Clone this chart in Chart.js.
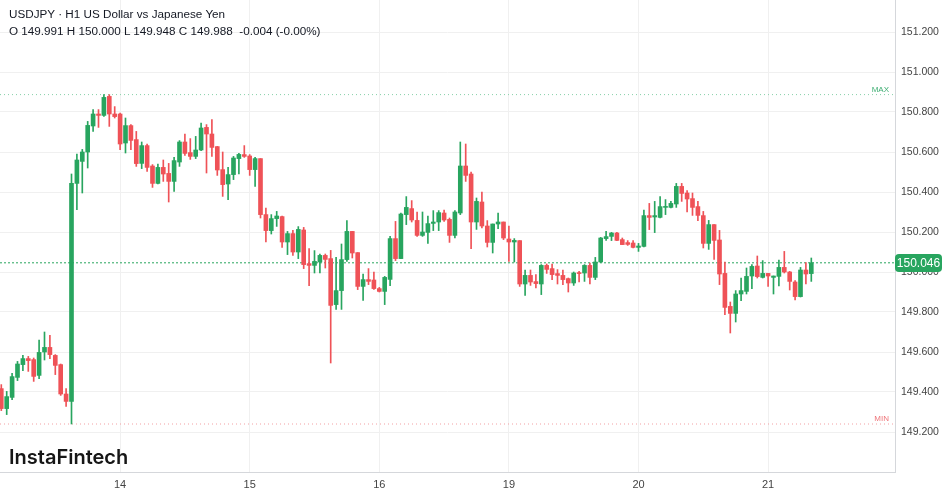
<!DOCTYPE html>
<html>
<head>
<meta charset="utf-8">
<script src="https://cdn.jsdelivr.net/npm/chart.js@4.4.1/dist/chart.umd.min.js"></script>
<style>
  html, body { margin: 0; padding: 0; background: #fff; }
  #wrap { position: relative; width: 949px; height: 494px; }
  #title {
    position: absolute; left: 9px; top: 5px;
    font: 11.7px "Liberation Sans", Arial, sans-serif; line-height: 17px;
    color: #131722; white-space: pre; pointer-events: none;
  }
  #logo {
    position: absolute; left: 9px; top: 445px;
    font: 600 20px Inter, sans-serif; color: #161616; pointer-events: none;
  }
</style>
</head>
<body>
<div id="wrap">
  <canvas id="myChart"></canvas>
  <div id="title">USDJPY · H1 US Dollar vs Japanese Yen
O 149.991 H 150.000 L 149.948 C 149.988  -0.004 (-0.00%)</div>
  <div id="logo">InstaFintech</div>
</div>
<script>
// hourly candles, Feb 13 -> Feb 21 (weekend collapsed)
const opens = [
  149.417, 149.317, 149.373, 149.473, 149.537, 149.567, 149.562, 149.483, 149.600, 149.623,
  149.583, 149.537, 149.390, 149.353, 150.443, 150.553, 150.600, 150.730, 150.790, 150.783,
  150.878, 150.790, 150.790, 150.645, 150.732, 150.662, 150.543, 150.632, 150.530, 150.443,
  150.523, 150.493, 150.453, 150.550, 150.650, 150.597, 150.578, 150.610, 150.723, 150.690,
  150.627, 150.512, 150.440, 150.487, 150.567, 150.587, 150.580, 150.512, 150.567, 150.287,
  150.207, 150.267, 150.277, 150.150, 150.192, 150.100, 150.210, 150.042, 150.033, 150.050,
  150.083, 150.067, 149.837, 149.907, 150.062, 150.203, 150.097, 149.928, 149.962, 149.960,
  149.917, 149.903, 149.963, 150.167, 150.067, 150.287, 150.317, 150.258, 150.183, 150.198,
  150.243, 150.250, 150.295, 150.263, 150.183, 150.295, 150.530, 150.490, 150.250, 150.350,
  150.230, 150.148, 150.240, 150.250, 150.165, 150.150, 150.157, 149.940, 149.983, 149.952,
  149.940, 150.033, 150.017, 149.992, 149.983, 149.967, 149.945, 149.997, 149.995, 150.033,
  149.973, 150.050, 150.167, 150.178, 150.195, 150.162, 150.147, 150.145, 150.123, 150.128,
  150.282, 150.275, 150.273, 150.323, 150.323, 150.340, 150.428, 150.395, 150.367, 150.327,
  150.282, 150.143, 150.237, 150.160, 149.993, 149.828, 149.793, 149.890, 149.903, 149.980,
  150.030, 149.973, 149.993, 149.973, 149.978, 150.023, 150.000, 149.950, 149.877, 150.010,
  149.992
];
const highs = [
  149.437, 149.403, 149.493, 149.553, 149.583, 149.578, 149.570, 149.660, 149.700, 149.683,
  149.587, 149.540, 149.417, 150.490, 150.590, 150.613, 150.753, 150.812, 150.812, 150.887,
  150.887, 150.827, 150.795, 150.770, 150.737, 150.703, 150.650, 150.640, 150.537, 150.540,
  150.560, 150.543, 150.573, 150.657, 150.690, 150.667, 150.678, 150.745, 150.737, 150.762,
  150.628, 150.600, 150.523, 150.578, 150.593, 150.632, 150.587, 150.573, 150.567, 150.320,
  150.287, 150.303, 150.280, 150.203, 150.208, 150.227, 150.223, 150.117, 150.107, 150.090,
  150.090, 150.108, 150.073, 150.140, 150.257, 150.203, 150.097, 149.990, 150.017, 150.000,
  149.923, 149.978, 150.178, 150.253, 150.295, 150.377, 150.357, 150.300, 150.300, 150.280,
  150.307, 150.307, 150.310, 150.270, 150.307, 150.650, 150.640, 150.500, 150.370, 150.400,
  150.257, 150.240, 150.295, 150.250, 150.230, 150.167, 150.157, 150.010, 150.010, 149.987,
  150.037, 150.040, 150.040, 150.012, 150.010, 149.970, 150.000, 150.003, 150.037, 150.045,
  150.073, 150.173, 150.203, 150.198, 150.198, 150.170, 150.157, 150.157, 150.143, 150.310,
  150.343, 150.353, 150.377, 150.362, 150.353, 150.443, 150.443, 150.407, 150.395, 150.353,
  150.303, 150.258, 150.237, 150.208, 150.050, 149.850, 149.907, 149.970, 150.020, 150.037,
  150.080, 150.057, 149.993, 149.980, 150.060, 150.103, 150.003, 149.957, 150.023, 150.047,
  150.070
];
const lows = [
  149.307, 149.287, 149.362, 149.457, 149.507, 149.503, 149.453, 149.467, 149.560, 149.567,
  149.487, 149.383, 149.328, 149.240, 150.312, 150.395, 150.520, 150.703, 150.723, 150.778,
  150.728, 150.770, 150.612, 150.595, 150.612, 150.528, 150.517, 150.503, 150.423, 150.440,
  150.453, 150.350, 150.403, 150.528, 150.583, 150.563, 150.567, 150.607, 150.495, 150.578,
  150.483, 150.378, 150.362, 150.462, 150.490, 150.573, 150.483, 150.428, 150.270, 150.150,
  150.190, 150.228, 150.123, 150.087, 150.083, 150.067, 150.017, 149.932, 149.995, 149.995,
  150.020, 149.545, 149.813, 149.813, 150.053, 150.070, 149.912, 149.858, 149.937, 149.913,
  149.900, 149.837, 149.932, 150.057, 150.067, 150.237, 150.250, 150.178, 150.178, 150.143,
  150.207, 150.207, 150.253, 150.148, 150.170, 150.287, 150.453, 150.117, 150.213, 150.220,
  150.125, 150.095, 150.217, 150.162, 150.053, 150.050, 149.928, 149.883, 149.933, 149.920,
  149.887, 149.993, 149.962, 149.940, 149.937, 149.900, 149.933, 149.950, 149.953, 149.940,
  149.962, 150.047, 150.158, 150.157, 150.157, 150.137, 150.133, 150.120, 150.103, 150.125,
  150.212, 150.197, 150.270, 150.287, 150.320, 150.323, 150.353, 150.300, 150.283, 150.257,
  150.120, 150.113, 150.063, 149.937, 149.787, 149.695, 149.750, 149.857, 149.890, 149.917,
  149.970, 149.970, 149.928, 149.890, 149.930, 149.995, 149.910, 149.860, 149.875, 149.940,
  149.953
];
const closes = [
  149.317, 149.377, 149.477, 149.540, 149.567, 149.557, 149.478, 149.598, 149.623, 149.587,
  149.533, 149.390, 149.353, 150.443, 150.560, 150.600, 150.733, 150.790, 150.783, 150.873,
  150.790, 150.777, 150.640, 150.732, 150.658, 150.542, 150.632, 150.523, 150.443, 150.523,
  150.490, 150.453, 150.557, 150.650, 150.593, 150.578, 150.610, 150.720, 150.690, 150.623,
  150.510, 150.437, 150.487, 150.570, 150.588, 150.578, 150.512, 150.567, 150.287, 150.207,
  150.267, 150.280, 150.150, 150.192, 150.100, 150.213, 150.037, 150.033, 150.053, 150.083,
  150.063, 149.833, 149.907, 150.062, 150.203, 150.095, 149.928, 149.962, 149.953, 149.917,
  149.903, 149.973, 150.167, 150.067, 150.290, 150.323, 150.260, 150.183, 150.200, 150.242,
  150.250, 150.297, 150.260, 150.183, 150.300, 150.530, 150.483, 150.250, 150.353, 150.230,
  150.148, 150.240, 150.250, 150.170, 150.150, 150.158, 149.940, 149.983, 149.950, 149.942,
  150.033, 150.013, 149.987, 149.983, 149.962, 149.945, 149.995, 149.992, 150.033, 149.973,
  150.050, 150.170, 150.177, 150.195, 150.158, 150.137, 150.138, 150.123, 150.130, 150.282,
  150.273, 150.282, 150.327, 150.328, 150.343, 150.428, 150.393, 150.365, 150.323, 150.283,
  150.143, 150.237, 150.158, 149.990, 149.823, 149.793, 149.890, 149.907, 149.978, 150.028,
  149.977, 149.993, 149.980, 149.980, 150.023, 150.000, 149.953, 149.877, 150.010, 149.990,
  150.046
];
const dayLabels = ["14", "15", "16", "19", "20", "21"];
const dayStarts = [22, 46, 70, 94, 118, 142];   // candle index where each day begins
const priceTicks = [149.2, 149.4, 149.6, 149.8, 150.0, 150.2, 150.4, 150.6, 150.8, 151.0, 151.2];

const green = "#28a55f";
const red = "#ef5257";
const axisText = "#444";
const gridColor = "#f0f0f0";

const lastPrice = closes[closes.length - 1];
const maxHigh = Math.max(...highs);
const minLow = Math.min(...lows);
const candleColors = opens.map((o, i) => closes[i] >= o ? green : red);
const xMin = -0.24, xMax = 165.5;

const hLine = (y, color, dash) => ({
  type: "line",
  data: [{ x: xMin, y: y }, { x: xMax, y: y }],
  borderColor: color,
  borderWidth: 1,
  borderDash: dash,
  pointRadius: 0,
  order: 5,
});

const priceTags = {
  id: "priceTags",
  afterDraw(chart) {
    const { ctx, chartArea, scales: { y } } = chart;
    ctx.save();
    ctx.font = "8px 'Liberation Sans', Arial, sans-serif";
    ctx.textAlign = "right";
    ctx.textBaseline = "bottom";
    ctx.fillStyle = "#3fae73";
    ctx.fillText("MAX", chartArea.right - 6, y.getPixelForValue(maxHigh) - 1);
    ctx.fillStyle = "#ee7479";
    ctx.fillText("MIN", chartArea.right - 6, y.getPixelForValue(minLow) - 1);

    const py = Math.round(y.getPixelForValue(lastPrice));
    ctx.fillStyle = green;
    ctx.beginPath();
    if (ctx.roundRect) ctx.roundRect(chartArea.right, py - 9, 47, 18, 4);
    else ctx.rect(chartArea.right, py - 9, 47, 18);
    ctx.fill();
    ctx.fillStyle = "#fff";
    ctx.font = "12px 'Liberation Sans', Arial, sans-serif";
    ctx.textAlign = "center";
    ctx.textBaseline = "middle";
    ctx.fillText(lastPrice.toFixed(3), chartArea.right + 23.5, py + 0.5);
    ctx.restore();
  }
};

Chart.defaults.font.family = "'Liberation Sans', Arial, sans-serif";

new Chart(document.getElementById("myChart"), {
  type: "bar",
  data: {
    datasets: [
      {
        // candle bodies
        data: opens.map((o, i) => ({ x: i, y: [o, closes[i]] })),
        backgroundColor: candleColors,
        barThickness: 4,
        minBarLength: 1,
        grouped: false,
        order: 1,
      },
      {
        // wicks
        data: lows.map((l, i) => ({ x: i, y: [l, highs[i]] })),
        backgroundColor: candleColors,
        barThickness: 1,
        grouped: false,
        order: 2,
      },
      hLine(lastPrice, green, [2, 2]),
      hLine(maxHigh, "#86d0a8", [1, 3]),
      hLine(minLow, "#f3a0a3", [1, 3]),
    ]
  },
  options: {
    responsive: true,
    maintainAspectRatio: false,
    animation: false,
    layout: { padding: 0 },
    plugins: {
      legend: { display: false },
      tooltip: { enabled: false },
    },
    scales: {
      x: {
        type: "linear",
        min: xMin,
        max: xMax,
        offset: false,
        bounds: "data",
        afterBuildTicks: s => { s.ticks = dayStarts.map(v => ({ value: v })); },
        afterFit: s => { s.height = 22; s.paddingLeft = 0; s.paddingRight = 0; },
        grid: { color: gridColor, drawTicks: false, offset: false },
        border: { color: "#d5d7db" },
        ticks: {
          callback: (v, i) => dayLabels[i],
          color: axisText,
          font: { size: 11 },
          padding: 6,
          autoSkip: false,
          maxRotation: 0,
        }
      },
      y: {
        position: "right",
        min: 149.0,
        max: 151.36,
        bounds: "data",
        afterBuildTicks: s => { s.ticks = priceTicks.map(v => ({ value: v })); },
        afterFit: s => { s.width = 54; s.paddingTop = 0; s.paddingBottom = 0; },
        grid: { color: gridColor, drawTicks: false },
        border: { color: "#d5d7db" },
        ticks: {
          callback: v => v.toFixed(3),
          color: axisText,
          font: { size: 10.5 },
          padding: 6,
        }
      }
    }
  },
  plugins: [priceTags]
});
</script>
</body>
</html>
